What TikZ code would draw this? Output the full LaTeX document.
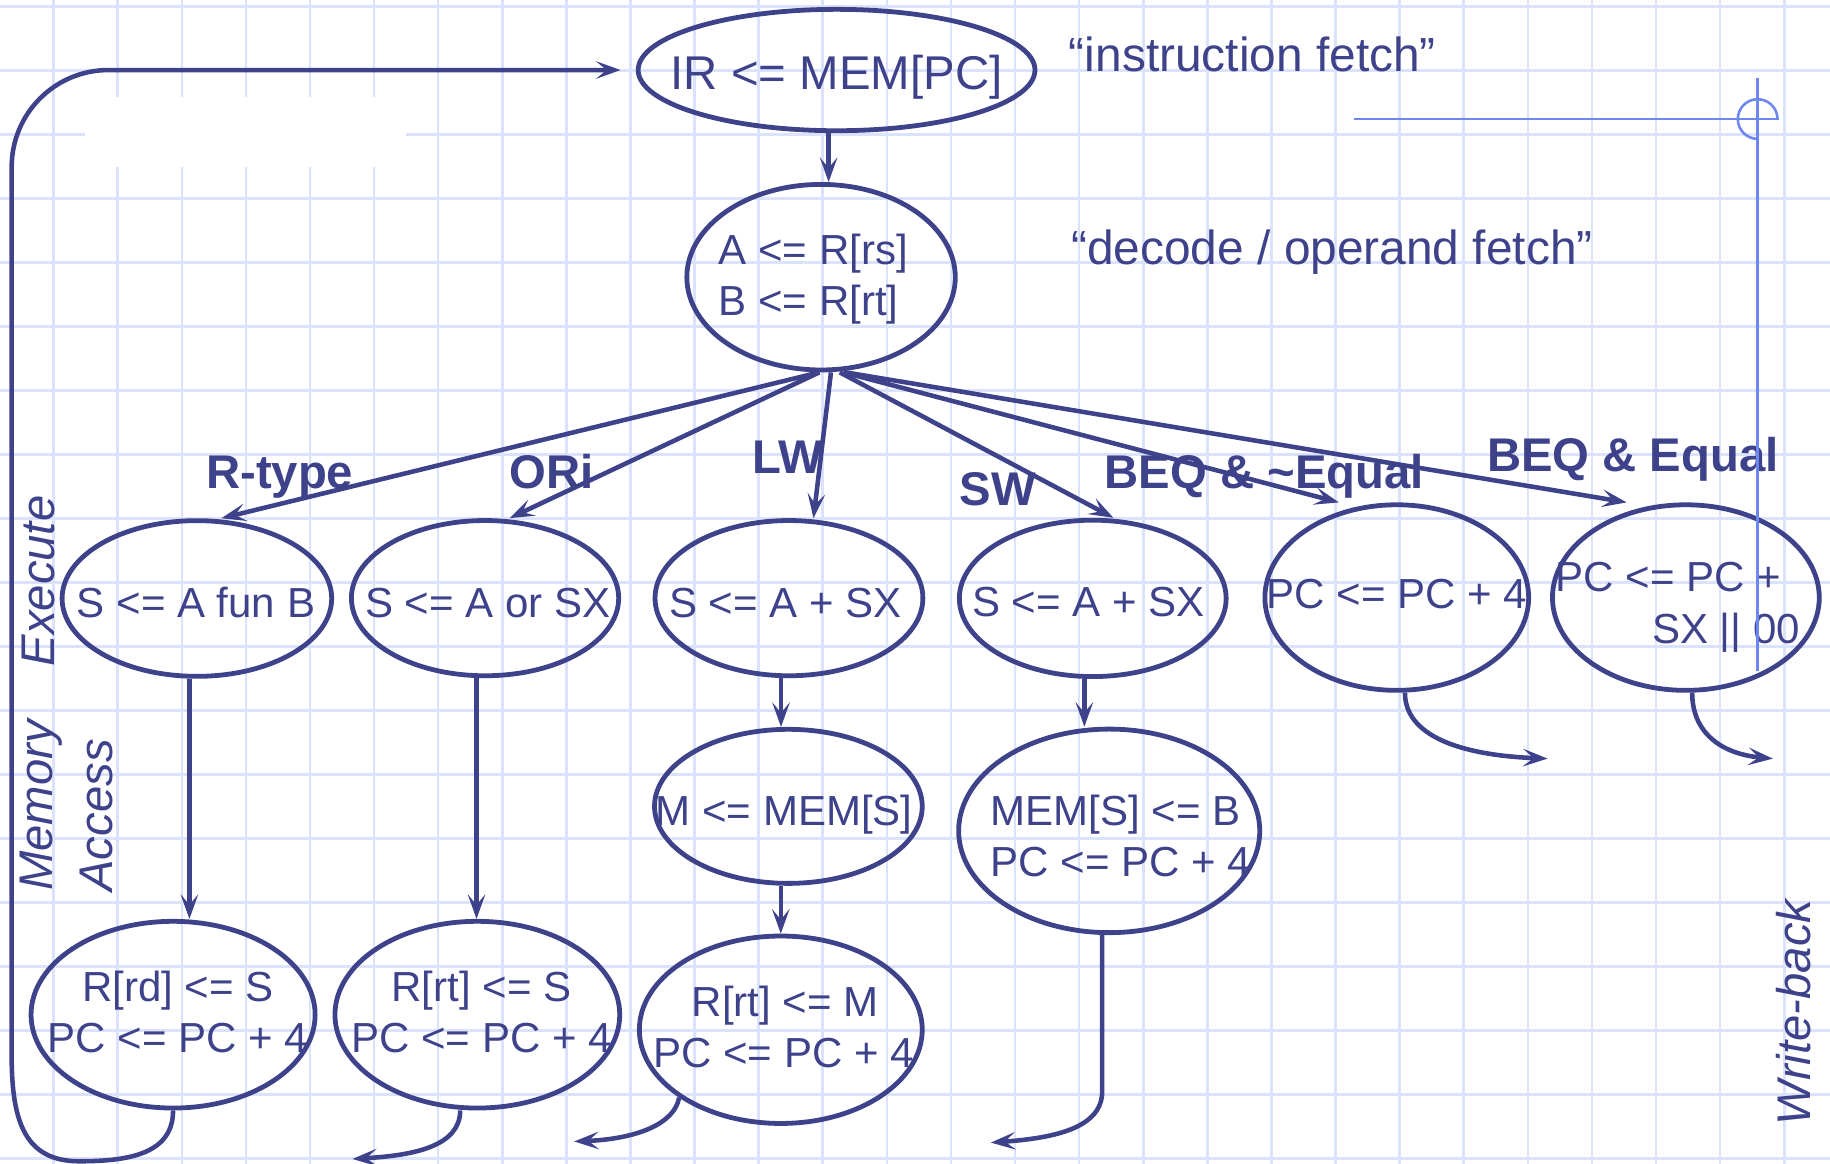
\documentclass[tikz,border=0pt]{standalone}
\usepackage{fontspec}
\setmainfont{Liberation Sans}
\usetikzlibrary{shapes.geometric,arrows.meta,calc}
\definecolor{navy}{RGB}{61,66,138}
\definecolor{gridc}{RGB}{218,227,251}
\definecolor{cross}{RGB}{110,135,240}
\begin{document}
\begin{tikzpicture}[x=1pt,y=-1pt,
  ell/.style={draw=navy,line width=4.1pt,ellipse,inner sep=0pt},
  etxt/.style={text=navy,inner sep=0pt,font=\fontsize{36}{43}\selectfont,anchor=base},
  lbl/.style={text=navy,inner sep=0pt,font=\bfseries\fontsize{40.5}{48}\selectfont,anchor=base west},
  vlbl/.style={text=navy,inner sep=0pt,font=\itshape\fontsize{40.5}{48}\selectfont,rotate=90,anchor=base},
  arr/.style={draw=navy,line width=3.9pt,-{Stealth[length=21pt,width=15pt,inset=9pt]}},
  crossl/.style={draw=cross,line width=2.2pt}
]
\fill[white] (0,0) rectangle (1568,997);
\useasboundingbox (0,0) rectangle (1568,997);
% grid
\foreach \k in {0,...,27} \draw[gridc,line width=2.2pt] ({45.93+54.92*\k},0) -- ({45.93+54.92*\k},997);
\foreach \k in {0,...,18} \draw[gridc,line width=2.2pt] (0,{5.74+54.84*\k}) -- (1568,{5.74+54.84*\k});
\fill[white] (73,83) rectangle (348,143);

% ellipses
\node[ell,minimum width=340pt,minimum height=104pt] (ir) at (716.8,60) {};
\node[ell,minimum width=230pt,minimum height=159pt] (dec) at (703.5,237.5) {};
\node[ell,minimum width=231pt,minimum height=133.4pt] (n3) at (168.7,512.8) {};
\node[ell,minimum width=229pt,minimum height=133pt] (n4) at (415.6,512.5) {};
\node[ell,minimum width=229.5pt,minimum height=133pt] (n5) at (676,512.5) {};
\node[ell,minimum width=228.6pt,minimum height=134pt] (n6) at (936.3,512.7) {};
\node[ell,minimum width=226pt,minimum height=159pt] (n7) at (1196.8,512) {};
\node[ell,minimum width=228.6pt,minimum height=159pt] (n8) at (1444.5,512) {};
\node[ell,minimum width=229.4pt,minimum height=132pt] (n9) at (675.5,690.9) {};
\node[ell,minimum width=258pt,minimum height=174.4pt] (n10) at (950.4,711.9) {};
\node[ell,minimum width=243.4pt,minimum height=160pt] (n11) at (148.3,869.4) {};
\node[ell,minimum width=244pt,minimum height=160pt] (n12) at (409,869.4) {};
\node[ell,minimum width=242.4pt,minimum height=160.6pt] (n13) at (669,882.3) {};

% texts in ellipses
\node[etxt,font=\fontsize{40.6}{48}\selectfont] (irt) at (716.8,77) {IR <= MEM[PC]};
\node[etxt,anchor=base west] (dect1) at (615.5,227) {A <= R[rs]};
\node[etxt,anchor=base west] (dect2) at (615.5,270) {B <= R[rt]};
\node[etxt] (t3) at (167.9,529) {S <= A fun B};
\node[etxt] (t4) at (418,529) {S <= A or SX};
\node[etxt] (t5) at (672.8,529) {S <= A + SX};
\node[etxt] (t6) at (932.4,528.4) {S <= A + SX};
\node[etxt] (t7) at (1196.7,521.2) {PC <= PC + 4};
\node[etxt,anchor=base west] (t8a) at (1332.7,507) {PC <= PC +};
\node[etxt,anchor=base west] (t8b) at (1415.4,551.2) {SX || 00};
\node[etxt] (t9) at (671.9,706.9) {M <= MEM[S]};
\node[etxt,anchor=base west] (t10a) at (848.8,706.9) {MEM[S] <= B};
\node[etxt,anchor=base west] (t10b) at (848.8,750.6) {PC <= PC + 4};
\node[etxt] (t11a) at (152.5,858.5) {R[rd] <= S};
\node[etxt] (t11b) at (152.5,901.4) {PC <= PC + 4};
\node[etxt] (t12a) at (412.6,858.5) {R[rt] <= S};
\node[etxt] (t12b) at (412.6,901.4) {PC <= PC + 4};
\node[etxt] (t13a) at (672.8,871.1) {R[rt] <= M};
\node[etxt] (t13b) at (671.3,914.5) {PC <= PC + 4};

% stage texts
\node[etxt,font=\fontsize{41}{48}\selectfont,anchor=base west] (sif) at (915.7,61.4) {“instruction fetch”};
\node[etxt,font=\fontsize{41}{48}\selectfont,anchor=base west] (sdf) at (917.7,227) {“decode / operand fetch”};

% branch labels
\node[lbl] (lr) at (176.5,418.4) {R-type};
\node[lbl] (lo) at (436.7,418.4) {ORi};
\node[lbl] (llw) at (644.4,405.6) {LW};
\node[lbl] (lsw) at (822,432.7) {SW};
\node[lbl] (lbn) at (946.4,418.4) {BEQ \& \textasciitilde Equal};
\node[lbl] (lbe) at (1274,404.1) {BEQ \& Equal};

% vertical stage labels
\node[vlbl] (vex) at (47,497.8) {Execute};
\node[vlbl] (vme) at (45,690) {Memory};
\node[vlbl] (vac) at (96,698.7) {Access};
\node[vlbl] (vwb) at (1551,867.5) {Write-back};

% connectors
\draw[arr] ([xshift=-6.8pt]ir.south) -- ([xshift=6.5pt]dec.north);
\draw[arr] ([xshift=-1.5pt]dec.south) -- ([xshift=21pt]n3.north);
\draw[arr] ([xshift=-1.5pt]dec.south) -- ([xshift=21.1pt]n4.north);
\draw[arr] ([xshift=8.5pt]dec.south) -- ([xshift=21pt]n5.north);
\draw[arr] ([xshift=16pt]dec.south) -- ([xshift=17.7pt]n6.north);
\draw[arr] ([xshift=19pt]dec.south) -- ([xshift=-49.6pt]n7.north);
\draw[arr] ([xshift=21pt]dec.south) -- ([xshift=-50.8pt]n8.north);

\draw[arr] ([xshift=-6.4pt]n3.south) -- ([xshift=-6.4pt]n3.south |- n11.north);
\draw[arr] ([xshift=-7.3pt]n4.south) -- ([xshift=-7.3pt]n4.south |- n12.north);
\draw[arr] ([xshift=-6.8pt]n5.south) -- ([xshift=-6.8pt]n5.south |- n9.north);
\draw[arr] ([xshift=-6.5pt]n9.south) -- ([xshift=-6.5pt]n9.south |- n13.north);
\draw[arr] ([xshift=-7.2pt]n6.south) -- ([xshift=-7.2pt]n6.south |- n10.north);

% return connectors
\coordinate (irin) at (531.7,60);
\draw[arr] (n11.south) .. controls (148.3,988) and (112,995) .. (68,995)
  .. controls (22,995) and (10,962) .. (10,905) [rounded corners=83pt] -- (10,60) -- (irin);
\coordinate (r12) at (302,993);
\draw[arr] ([xshift=-14.7pt]n12.south) .. controls (394.3,982) and (355,990) .. (r12);
\coordinate (r13) at (492,978);
\draw[arr] (n13.south west) .. controls (578,963) and (545,976) .. (r13);
\coordinate (r10) at (849,979);
\draw[arr] ([xshift=-6pt]n10.south) -- (944.4,935) .. controls (944.4,966) and (905,975) .. (r10);
\coordinate (r7) at (1326,650);
\draw[arr] ([xshift=7pt]n7.south) .. controls (1203.8,630) and (1250,647) .. (r7);
\coordinate (r8) at (1519,650);
\draw[arr] ([xshift=5.4pt]n8.south) .. controls (1449.9,628) and (1475,646) .. (r8);

% crosshair
\draw[crossl] (1160,102) -- (1524,102);
\draw[crossl] (1506,67) -- (1506,575);
\draw[crossl] (1523,102) arc[start angle=0,end angle=-270,radius=17];
\end{tikzpicture}
\end{document}
